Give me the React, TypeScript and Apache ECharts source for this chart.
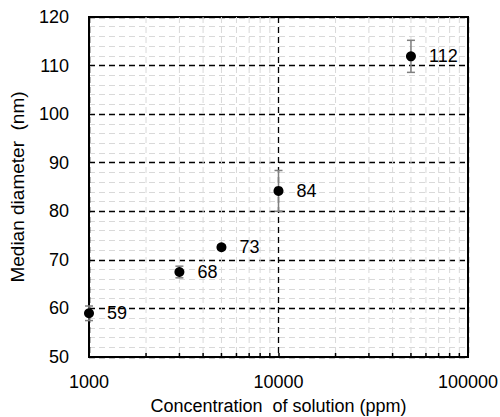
import React, { useEffect, useRef } from "react";
import * as echarts from "echarts";

const concentrations = [1000, 3000, 5000, 10000, 50000];
const diameters = [59.0, 67.5, 72.6, 84.2, 111.9];
const errors = [1.5, 1.2, 0.5, 4.2, 3.3];
const pointLabels = ["59", "68", "73", "84", "112"];
const xMinorValues = [2000, 3000, 4000, 5000, 6000, 7000, 8000, 9000, 20000, 30000, 40000, 50000, 60000, 70000, 80000, 90000];

const FONT = "Liberation Sans, Arial, sans-serif";

export default function App() {
  const ref = useRef<HTMLDivElement>(null);
  useEffect(() => {
    if (!ref.current) return;
    const chart = echarts.init(ref.current, undefined, { renderer: "svg" });
    const pts = concentrations.map((c, i) => [c, diameters[i]]);
    const errData = concentrations.map((c, i) => [c, diameters[i] - errors[i], diameters[i] + errors[i]]);
    const minorData = xMinorValues.map((v) => [v]);
    chart.setOption({
      animation: false,
      backgroundColor: "#ffffff",
      grid: {
        left: 89,
        right: 32,
        top: 17,
        bottom: 60,
        containLabel: false,
        outerBoundsMode: "none",
        show: true,
        borderColor: "#000",
        borderWidth: 2,
        backgroundColor: "transparent",
      },
      xAxis: {
        type: "log",
        logBase: 10,
        min: 1000,
        max: 100000,
        name: "Concentration  of solution (ppm)",
        nameLocation: "middle",
        nameGap: 40,
        nameTextStyle: { fontFamily: FONT, fontSize: 18, color: "#000" },
        axisLine: { show: true, lineStyle: { color: "#000", width: 2 } },
        axisTick: { show: true, inside: true, length: 4, lineStyle: { color: "#000", width: 1.5 } },
        axisLabel: { fontFamily: FONT, fontSize: 18, color: "#000", margin: 16, formatter: (v: number) => String(Math.round(v)) },
        splitLine: { show: true, lineStyle: { color: "#000", type: [6, 4], width: 1.3 } },
      },
      yAxis: {
        type: "value",
        min: 50,
        max: 120,
        interval: 10,
        name: "Median diameter  (nm)",
        nameLocation: "middle",
        nameGap: 62,
        nameTextStyle: { fontFamily: FONT, fontSize: 19, color: "#000" },
        axisLine: { show: true, lineStyle: { color: "#000", width: 2 } },
        axisTick: { show: false },
        axisLabel: { fontFamily: FONT, fontSize: 18, color: "#000", margin: 20 },
        splitLine: { show: true, lineStyle: { color: "#000", type: [6, 4], width: 1.3 } },
        minorTick: { show: false, splitNumber: 5 },
        minorSplitLine: { show: true, lineStyle: { color: "#d9d9d9", type: [6, 4], width: 1 } },
      },
      series: [
        {
          type: "custom",
          name: "xminor",
          silent: true,
          z: 1,
          data: minorData,
          encode: { x: 0 },
          renderItem: (params: any, api: any) => {
            const x = api.coord([api.value(0), 50])[0];
            const yb = api.coord([api.value(0), 50])[1];
            const yt = api.coord([api.value(0), 120])[1];
            return {
              type: "group",
              children: [
                {
                  type: "line",
                  shape: { x1: x, y1: yt, x2: x, y2: yb },
                  style: { stroke: "#d9d9d9", lineWidth: 1, lineDash: [6, 4] },
                },
                {
                  type: "line",
                  shape: { x1: x, y1: yb, x2: x, y2: yb - 4 },
                  style: { stroke: "#000", lineWidth: 1.5 },
                  z2: 10,
                },
              ],
            };
          },
        },
        {
          type: "custom",
          name: "err",
          silent: true,
          z: 3,
          data: errData,
          encode: { x: 0, y: [1, 2] },
          renderItem: (params: any, api: any) => {
            const lo = api.coord([api.value(0), api.value(1)]);
            const hi = api.coord([api.value(0), api.value(2)]);
            const hw = 4;
            const st = { stroke: "#7f7f7f", lineWidth: 1.5 };
            return {
              type: "group",
              children: [
                { type: "line", shape: { x1: lo[0], y1: lo[1], x2: hi[0], y2: hi[1] }, style: st },
                { type: "line", shape: { x1: lo[0] - hw, y1: lo[1], x2: lo[0] + hw, y2: lo[1] }, style: st },
                { type: "line", shape: { x1: hi[0] - hw, y1: hi[1], x2: hi[0] + hw, y2: hi[1] }, style: st },
              ],
            };
          },
        },
        {
          type: "scatter",
          name: "points",
          z: 5,
          symbol: "circle",
          symbolSize: 10,
          itemStyle: { color: "#000", opacity: 1 },
          data: pts,
          label: {
            show: true,
            position: "right",
            distance: 13,
            fontFamily: FONT,
            fontSize: 18,
            color: "#000",
            formatter: (p: any) => pointLabels[p.dataIndex],
          },
        },
      ],
    });
    return () => chart.dispose();
  }, []);
  return <div ref={ref} style={{ position: "fixed", left: 0, top: 0, width: 500, height: 417 }} />;
}
